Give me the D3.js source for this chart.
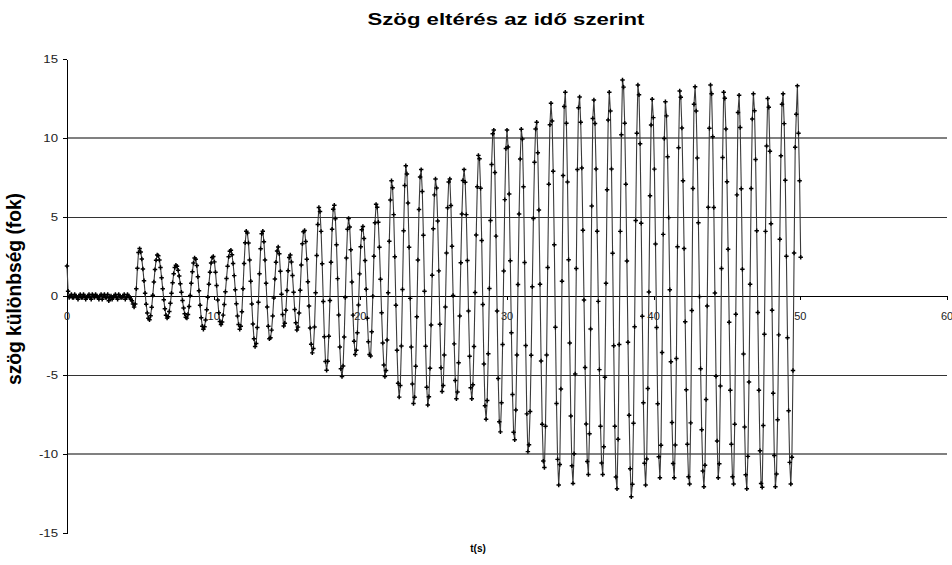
<!DOCTYPE html>
<html><head><meta charset="utf-8">
<script src="https://cdn.jsdelivr.net/npm/d3@7/dist/d3.min.js"></script>
<style>body{margin:0;background:#fff}svg{display:block;font-family:Arial,"Liberation Sans",sans-serif}</style>
</head><body><svg id="c" width="952" height="565"></svg>
<script>
const chartTitle = "Szög eltérés az idő szerint";
const xLabel = "t(s)";
const yLabel = "szög különbség (fok)";
const xTicks = [0, 10, 20, 30, 40, 50, 60];
const yTicks = [-15, -10, -5, 0, 5, 10, 15];
const gridValues = [-10, -5, 5, 10];
const sampleStep = 0.075; // seconds between measured samples
const angleValues = [
  1.9,0.3, -0.1,0.0, 0.1,-0.1, -0.1,0.1, 0.0,-0.1, -0.2,0.0, 0.1,-0.1, -0.1,0.1, 0.0,-0.2, -0.1,0.0,
  0.1,-0.1, -0.2,0.1, 0.0,-0.1, 0.1,0.0, -0.1,-0.2, 0.0,0.1, -0.2,0.0, 0.1,-0.1, -0.1,0.1, -0.3,-0.1,
  0.0,-0.2, -0.1,0.0, 0.1,-0.1, -0.2,0.1, 0.0,-0.1, -0.1,0.0, 0.1,-0.2, -0.1,0.1, 0.0,-0.1, -0.2,-0.3,
  -0.5,-0.7, -0.5,0.46, 1.75,2.75, 3.0,2.79, 2.34,1.71, 0.96,0.18, -0.52,-1.08, -1.41,-1.5, -1.25,-0.71, 0.05,0.89,
  1.67,2.27, 2.6,2.55, 2.28,1.8, 1.16,0.46, -0.23,-0.81, -1.22,-1.4, -1.31,-0.98, -0.46,0.18, 0.84,1.41, 1.8,1.95,
  1.88,1.63, 1.26,0.77, 0.24,-0.29, -0.76,-1.13, -1.35,-1.4, -1.17,-0.67, 0.03,0.81, 1.54,2.09, 2.4,2.33, 1.93,1.22,
  0.33,-0.58, -1.37,-1.91, -2.1,-1.95, -1.52,-0.87, -0.08,0.75, 1.51,2.09, 2.43,2.5, 2.16,1.51, 0.66,-0.26, -1.06,-1.61,
  -1.8,-1.65, -1.21,-0.54, 0.27,1.11, 1.88,2.48, 2.83,2.9, 2.61,2.06, 1.29,0.4, -0.49,-1.26, -1.81,-2.1, -1.91,-0.99,
  0.46,2.06, 3.37,4.1, 3.98,3.35, 2.28,0.93, -0.5,-1.77, -2.71,-3.2, -3.0,-2.0, -0.4,1.41, 2.99,3.94, 4.1,3.44,
  2.28,0.8, -0.69,-1.91, -2.7,-2.64, -2.16,-1.27, -0.12,1.08, 2.13,2.85, 3.1,2.68, 1.56,0.11, -1.17,-1.9, -1.73,-0.9,
  0.35,1.6, 2.43,2.6, 2.15,1.3, 0.23,-0.85, -1.7,-2.15, -1.97,-1.07, 0.36,1.96, 3.3,4.06, 4.15,3.45, 2.33,0.9,
  -0.64,-2.03, -3.06,-3.6, -3.32,-1.96, 0.2,2.57, 4.52,5.6, 5.35,4.09, 2.04,-0.35, -2.58,-4.14, -4.7,-4.13, -2.55,-0.29,
  2.14,4.22, 5.49,5.75, 4.89,3.25, 1.1,-1.2, -3.23,-4.61, -5.1,-4.43, -2.6,-0.1, 2.4,4.23, 4.9,4.37, 2.92,0.88,
  -1.21,-2.86, -3.7,-3.44, -2.32,-0.57, 1.4,3.12, 4.19,4.4, 3.64,2.24, 0.43,-1.41, -2.89,-3.7, -3.8,-2.27, -0.02,2.52,
  4.63,5.8, 5.61,4.67, 3.08,1.06, -1.06,-2.97, -4.37,-5.1, -4.71,-2.79, 0.21,3.47, 6.07,7.3, 6.85,5.15, 2.48,-0.58,
  -3.44,-5.52, -6.4,-5.66, -3.17,0.41, 4.13,7.0, 8.25,7.72, 5.89,3.09, -0.15,-3.23, -5.57,-6.8, -6.41,-4.45, -1.32,2.28,
  5.48,7.53, 8.0,6.61, 3.84,0.3, -3.18,-5.78, -6.9,-6.38, -4.58,-1.84, 1.31,4.25, 6.4,7.4, 6.84,4.74, 1.59,-1.79,
  -4.54,-6.05, -5.66,-3.74, -0.69,2.72, 5.59,7.21, 7.4,5.73, 3.15,0.03, -3.03,-5.35, -6.5,-6.07, -4.22,-1.27, 2.11,5.19,
  7.31,8.0, 7.2,5.15, 2.24,-0.95, -3.82,-5.8, -6.5,-5.62, -3.2,0.22, 3.86,6.91, 8.9,8.68, 6.82,3.51, -0.54,-4.31,
  -6.94,-7.8, -6.62,-3.65, 0.47,4.78, 8.32,10.27, 10.5,7.82, 3.79,-0.95, -5.22,-7.96, -8.6,-6.75, -3.07,1.58, 6.1,9.33,
  10.5,9.43, 6.46,2.23, -2.33,-6.23, -8.62,-9.1, -7.22,-3.74, 0.73,5.19, 8.67,10.55, 9.94,6.91, 2.12,-3.14, -7.46,-9.85,
  -9.42,-7.31, -3.75,0.58, 4.9,8.46, 10.57,11.0, 9.07,5.44, 0.74,-4.11, -8.11,-10.45, -10.85,-8.24, -3.74,1.8, 7.08,10.84,
  12.2,11.07, 7.89,3.25, -1.98,-6.81, -10.34,-11.96, -10.67,-5.88, 0.94,7.62, 11.99,12.9, 10.93,7.21, 2.29,-2.97, -7.59,-10.75,
  -11.86,-9.99, -4.94,1.74, 8.0,11.91, 12.6,11.0, 8.1,4.16, -0.25,-4.53, -8.1,-10.48, -11.3,-8.72, -2.09,5.69, 11.23,12.4,
  10.92,8.04, 4.1,-0.34, -4.66,-8.24, -10.57,-11.3, -9.54,-5.14, 0.8,6.72, 11.14,12.9, 11.71,8.04, 2.7,-3.15, -8.25,-11.46,
  -12.2,-9.07, -3.07,4.09, 10.2,13.67, 13.22,10.94, 7.08,2.21, -2.93,-7.55, -10.93,-12.7, -11.92,-8.05, -1.94,4.78, 10.3,13.35,
  12.73,9.64, 4.6,-1.28, -6.75,-10.58, -11.96,-10.32, -5.86,0.25, 6.35,10.82, 12.45,11.29, 8.03,3.29, -1.99,-6.82, -10.17,-11.5,
  -9.45,-3.57, 3.9,9.97, 12.3,11.4, 8.81,4.96, 0.4,-4.16, -8.01,-10.6, -11.5,-9.43, -3.95,3.12, 9.39,12.97, 12.58,10.63,
  7.29,3.0, -1.63,-5.94, -9.38,-11.44, -11.9,-8.03, -0.92,6.81, 12.13,13.25, 11.71,8.73, 4.63,-0.04, -4.6,-8.47, -11.07,-12.07,
  -10.71,-6.55, -0.63,5.61, 10.62,13.35, 12.8,10.08, 5.6,0.19, -5.08,-9.17, -11.5,-10.62, -5.69,1.74, 8.76,12.9, 12.52,10.57,
  7.23,2.96, -1.66,-5.96, -9.38,-11.44, -11.9,-8.11, -1.16,6.4, 11.61,12.7, 10.66,6.79, 1.69,-3.67, -8.29,-11.32, -12.2,-10.15,
  -5.45,0.74, 6.8,11.2, 12.8,11.72, 8.64,4.13, -1.04,-5.97, -9.8,-11.86, -12.1,-8.19, -2.42,4.09, 9.5,12.5, 11.95,9.16,
  4.58,-0.9, -6.15,-10.1, -12.07,-11.26, -7.83,-2.46, 3.59,8.87, 12.14,12.8, 10.91,7.32, 2.51,-2.64, -7.26,-10.53, -11.9,-10.21,
  -4.71,2.72, 9.42,11.5, 13.3,10.3, 7.3,2.45
];

const data = angleValues.map((v, i) => ({ t: i * sampleStep, v }));

const svg = d3.select("#c");
const x = d3.scaleLinear().domain([0, 60]).range([67, 947]);
const y = d3.scaleLinear().domain([-15, 15]).range([533, 59]);

// grid lines
svg.append("g").selectAll("line").data(gridValues).join("line")
  .attr("x1", x(0)).attr("x2", x(60))
  .attr("y1", d => y(d)).attr("y2", d => y(d))
  .attr("stroke", d => Math.abs(d) === 10 ? "#808080" : "#333")
  .attr("stroke-width", d => Math.abs(d) === 10 ? 2 : 1)
  .attr("shape-rendering", "crispEdges");

// y axis
const yAxis = svg.append("g").attr("transform", `translate(${x(0)},0)`)
  .call(d3.axisLeft(y).tickValues(yTicks).tickSize(4).tickSizeOuter(0).tickFormat(""));
yAxis.selectAll("path,line").attr("stroke", "#000").attr("shape-rendering", "crispEdges");

// x axis at zero
const xAxis = svg.append("g").attr("transform", `translate(0,${y(0)})`)
  .call(d3.axisBottom(x).tickValues(xTicks).tickSize(4).tickSizeOuter(0).tickFormat(""));
xAxis.selectAll("path,line").attr("stroke", "#000").attr("shape-rendering", "crispEdges");

// y tick labels
svg.append("g").selectAll("text").data(yTicks).join("text")
  .attr("transform", d => `translate(58,${y(d) + 4}) scale(1.2,1)`)
  .attr("text-anchor", "end").attr("font-size", 11).attr("fill", "#222")
  .text(d => d);

// x tick labels
svg.append("g").selectAll("text").data(xTicks).join("text")
  .attr("x", d => x(d)).attr("y", y(0) + 24)
  .attr("text-anchor", "middle").attr("font-size", 11).attr("fill", "#222")
  .text(d => d);

// series line
svg.append("path").datum(data)
  .attr("fill", "none").attr("stroke", "#3a3a3a").attr("stroke-width", 1.1)
  .attr("d", d3.line().x(d => x(d.t)).y(d => y(d.v)));

// markers
const sym = d3.symbol().type(d3.symbolCross).size(11);
svg.append("g").selectAll("path").data(data).join("path")
  .attr("transform", d => `translate(${x(d.t)},${y(d.v)})`)
  .attr("d", sym).attr("fill", "#000");

// title
svg.append("text").attr("x", 506).attr("y", 25)
  .attr("text-anchor", "middle").attr("font-size", 17).attr("font-weight", "bold")
  .attr("textLength", 277).attr("lengthAdjust", "spacingAndGlyphs")
  .text(chartTitle);

// y label
svg.append("text").attr("transform", "translate(20.5,289) scale(1.2,1) rotate(-90)")
  .attr("text-anchor", "middle").attr("font-size", 17).attr("font-weight", "bold")
  .attr("textLength", 192).attr("lengthAdjust", "spacingAndGlyphs")
  .text(yLabel);

// x label
svg.append("text").attr("x", 478).attr("y", 552)
  .attr("text-anchor", "middle").attr("font-size", 10).attr("font-weight", "bold")
  .text(xLabel);
</script></body></html>
